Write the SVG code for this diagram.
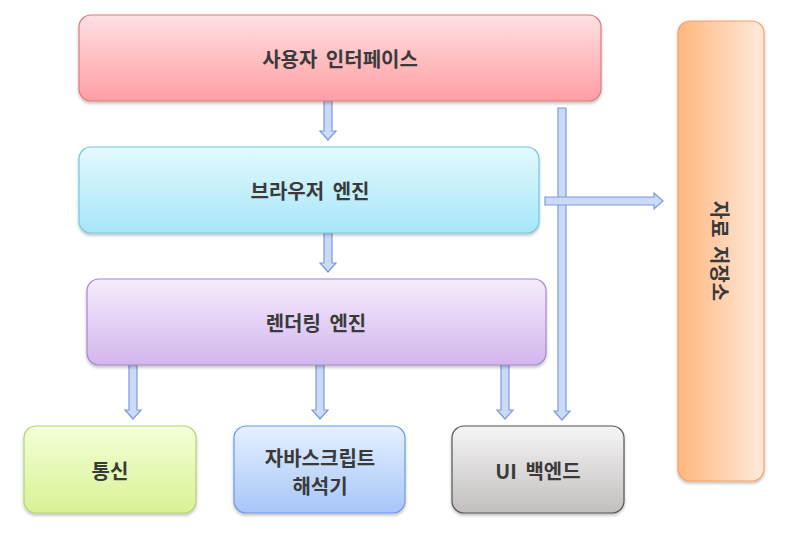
<svg xmlns="http://www.w3.org/2000/svg" width="793" height="544" viewBox="0 0 793 544">
<defs>
<linearGradient id="gRed" x1="0" y1="0" x2="0" y2="1"><stop offset="0" stop-color="#ffe0e2"/><stop offset="1" stop-color="#ff9ea3"/></linearGradient>
<linearGradient id="gCyan" x1="0" y1="0" x2="0" y2="1"><stop offset="0" stop-color="#e4f9ff"/><stop offset="1" stop-color="#a6e6f7"/></linearGradient>
<linearGradient id="gPurple" x1="0" y1="0" x2="0" y2="1"><stop offset="0" stop-color="#f5ecfc"/><stop offset="1" stop-color="#d2b6ee"/></linearGradient>
<linearGradient id="gGreen" x1="0" y1="0" x2="0" y2="1"><stop offset="0" stop-color="#f4ffd8"/><stop offset="1" stop-color="#d8f294"/></linearGradient>
<linearGradient id="gBlue" x1="0" y1="0" x2="0" y2="1"><stop offset="0" stop-color="#e6f0ff"/><stop offset="1" stop-color="#a6c6f8"/></linearGradient>
<linearGradient id="gGray" x1="0" y1="0" x2="0" y2="1"><stop offset="0" stop-color="#f6f5f5"/><stop offset="1" stop-color="#c2bebe"/></linearGradient>
<linearGradient id="gOrange" x1="0" y1="0" x2="1" y2="0"><stop offset="0" stop-color="#ffb67e"/><stop offset="1" stop-color="#ffeadc"/></linearGradient>
<filter id="sh" x="-10%" y="-10%" width="120%" height="130%"><feDropShadow dx="0" dy="2" stdDeviation="1.5" flood-color="#000" flood-opacity="0.25"/></filter>
</defs>
<style>
.box{stroke-width:1.2;filter:url(#sh)}
.lbl{font-family:"Noto Sans CJK KR","Noto Sans",sans-serif;font-weight:bold;font-size:20px;word-spacing:4px;fill:#3a3a3a;text-anchor:middle;dominant-baseline:central}
.arr{fill:#cbdaf8;stroke:#7b9bdb;stroke-width:1.2;stroke-linejoin:miter}
</style>
<rect width="793" height="544" fill="#fff"/>
<g id="storage"><rect class="box" x="678" y="21" width="86" height="460" rx="12" fill="url(#gOrange)" stroke="#f2a266"/><text class="lbl" transform="translate(720,251) rotate(90)">자료 저장소</text></g>
<g id="connectors">
<path class="arr" d="M558,108 L566,108 L566,411 L570,411 L562,420 L554,411 L558,411 Z"/>
<path class="arr" d="M545,197 L654,197 L654,193 L663,201 L654,209 L654,205 L545,205 Z"/>
<path class="arr" d="M324,101 L332,101 L332,131 L336,131 L328,140 L320,131 L324,131 Z"/>
<path class="arr" d="M324,233 L332,233 L332,263 L336,263 L328,272 L320,263 L324,263 Z"/>
<path class="arr" d="M129,365 L137,365 L137,410 L141,410 L133,419 L125,410 L129,410 Z"/>
<path class="arr" d="M316,365 L324,365 L324,410 L328,410 L320,419 L312,410 L316,410 Z"/>
<path class="arr" d="M501,365 L509,365 L509,410 L513,410 L505,419 L497,410 L501,410 Z"/>
</g>
<g id="ui"><rect class="box" x="79" y="15" width="522" height="86" rx="12" fill="url(#gRed)" stroke="#e07a7e"/><text class="lbl" x="340" y="58">사용자 인터페이스</text></g>
<g id="browser"><rect class="box" x="79" y="147" width="460" height="86" rx="12" fill="url(#gCyan)" stroke="#74c8e0"/><text class="lbl" x="310" y="190">브라우저 엔진</text></g>
<g id="rendering"><rect class="box" x="87" y="279" width="459" height="86" rx="12" fill="url(#gPurple)" stroke="#a688cc"/><text class="lbl" x="316" y="322">렌더링 엔진</text></g>
<g id="networking"><rect class="box" x="24" y="426" width="172" height="87" rx="12" fill="url(#gGreen)" stroke="#b4d474"/><text class="lbl" x="110" y="470">통신</text></g>
<g id="js"><rect class="box" x="234" y="426" width="171" height="87" rx="12" fill="url(#gBlue)" stroke="#6c9ae0"/><text class="lbl" x="320" y="457">자바스크립트</text><text class="lbl" x="320" y="485">해석기</text></g>
<g id="uibackend"><rect class="box" x="452" y="426" width="172" height="87" rx="12" fill="url(#gGray)" stroke="#555"/><text class="lbl" x="538" y="470">UI 백엔드</text></g>
</svg>
